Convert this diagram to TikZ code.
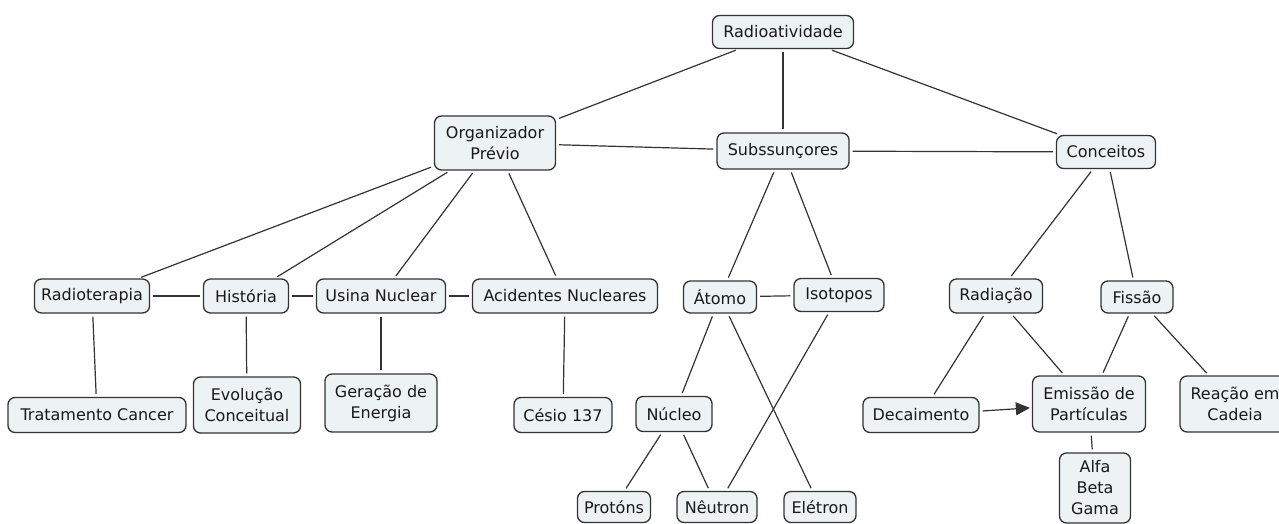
\documentclass[tikz,border=0pt]{standalone}
\usepackage{fontspec}
\setmainfont{DejaVu Sans}
\usetikzlibrary{arrows.meta}
\definecolor{boxfill}{HTML}{EDF2F5}
\definecolor{ink}{HTML}{333333}
\begin{document}
\begin{tikzpicture}[x=1pt,y=-1pt,
  box/.style={draw=ink, fill=boxfill, rounded corners=7pt, line width=1.3pt,
    inner sep=0pt, align=center, font=\fontsize{16}{21}\selectfont, text=black!90},
  link/.style={draw=ink, line width=1.2pt, shorten <=3pt, shorten >=3pt},
  arr/.style={link, -{Triangle[length=14pt,width=13pt]}, shorten >=2pt}]
\useasboundingbox (0,0) rectangle (1279,524);
\node[box, minimum width=141pt, minimum height=33pt] (rad) at (783,32) {Radioatividade};
\node[box, minimum width=121pt, minimum height=54pt] (org) at (495,143) {Organizador\\Prévio};
\node[box, minimum width=132pt, minimum height=36pt] (sub) at (783,151) {Subssunçores};
\node[box, minimum width=99pt, minimum height=33pt] (con) at (1106,152) {Conceitos};
\node[box, minimum width=115pt, minimum height=34pt] (rter) at (92,296) {Radioterapia};
\node[box, minimum width=85pt, minimum height=34pt] (hist) at (246,296) {História};
\node[box, minimum width=129pt, minimum height=34pt] (usina) at (381,296) {Usina Nuclear};
\node[box, minimum width=185pt, minimum height=34pt] (acid) at (565,296) {Acidentes Nucleares};
\node[box, minimum width=178pt, minimum height=35pt] (trat) at (97,415) {Tratamento Cancer};
\node[box, minimum width=107pt, minimum height=56pt] (evol) at (247,405) {Evolução\\Conceitual};
\node[box, minimum width=112pt, minimum height=58pt] (ger) at (381,403) {Geração de\\Energia};
\node[box, minimum width=98pt, minimum height=35pt] (ces) at (563,415) {Césio 137};
\node[box, minimum width=73pt, minimum height=32pt] (atomo) at (720,297) {Átomo};
\node[box, minimum width=90pt, minimum height=33pt] (iso) at (839,295) {Isotopos};
\node[box, minimum width=93pt, minimum height=34pt] (radi) at (996,296) {Radiação};
\node[box, minimum width=72pt, minimum height=32pt] (fis) at (1137,297) {Fissão};
\node[box, minimum width=76pt, minimum height=35pt] (nuc) at (674,414) {Núcleo};
\node[box, minimum width=116pt, minimum height=35pt] (dec) at (921,415) {Decaimento};
\node[box, minimum width=113pt, minimum height=56pt] (emi) at (1089,404) {Emissão de\\Partículas};
\node[box, minimum width=110pt, minimum height=56pt] (rea) at (1235,404) {Reação em\\Cadeia};
\node[box, minimum width=71pt, minimum height=70pt] (alfa) at (1095,488) {Alfa\\Beta\\Gama};
\node[box, minimum width=73pt, minimum height=31pt] (prot) at (614,507) {Protóns};
\node[box, minimum width=80pt, minimum height=31pt] (neu) at (717,507) {Nêutron};
\node[box, minimum width=72pt, minimum height=31pt] (ele) at (820,507) {Elétron};
\path[link] (rad) -- (org);
\path[link] (rad) -- (sub);
\path[link] (rad) -- (con);
\path[link] (org) -- (sub);
\path[link] (sub) -- (con);
\path[link] (org) -- (rter);
\path[link] (org) -- (hist);
\path[link] (org) -- (usina);
\path[link] (org) -- (acid);
\path[link] (rter) -- (hist);
\path[link] (hist) -- (usina);
\path[link] (usina) -- (acid);
\path[link] (rter) -- (trat);
\path[link] (hist) -- (evol);
\path[link] (usina) -- (ger);
\path[link] (acid) -- (ces);
\path[link] (sub) -- (atomo);
\path[link] (sub) -- (iso);
\path[link] (atomo) -- (iso);
\path[link] (atomo) -- (nuc);
\path[link] (atomo) -- (ele);
\path[link] (iso) -- (neu);
\path[link] (nuc) -- (prot);
\path[link] (nuc) -- (neu);
\path[link] (con) -- (radi);
\path[link] (con) -- (fis);
\path[link] (radi) -- (dec);
\path[link] (radi) -- (emi);
\path[link] (fis) -- (emi);
\path[link] (fis) -- (rea);
\path[link] (emi) -- (alfa);
\path[arr] (dec) -- (emi);
\end{tikzpicture}
\end{document}
